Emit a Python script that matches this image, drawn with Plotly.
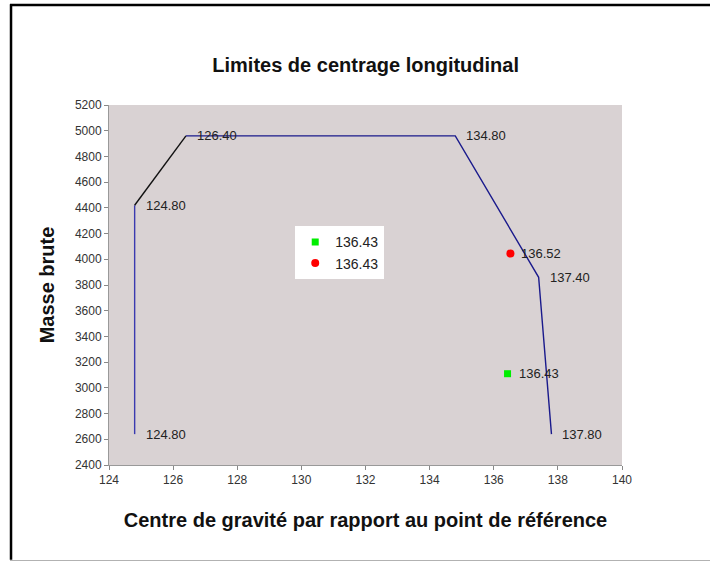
import plotly.graph_objects as go

# Envelope (centre of gravity limits)
env_x = [124.8, 124.8, 126.4, 134.8, 137.4, 137.8]
env_y = [2640, 4420, 4960, 4960, 3860, 2640]
env_labels = ["124.80", "124.80", "126.40", "134.80", "137.40", "137.80"]

# Points
green_x = [136.43]
green_y = [3110]
green_name = "136.43"
red_x = [136.52]
red_y = [4045]
red_name = "136.43"

x_ticks = [124, 126, 128, 130, 132, 134, 136, 138, 140]
y_ticks = list(range(2400, 5201, 200))

NAVY = "#1a1a8c"
FONT = "Liberation Sans, Arial, sans-serif"

fig = go.Figure()

fig.add_trace(go.Scatter(x=env_x[0:2], y=env_y[0:2], mode="lines",
                         line=dict(color="#3a3ab0", width=1.4), showlegend=False, hoverinfo="skip"))
fig.add_trace(go.Scatter(x=env_x[1:3], y=env_y[1:3], mode="lines",
                         line=dict(color="#111111", width=1.4), showlegend=False, hoverinfo="skip"))
fig.add_trace(go.Scatter(x=env_x[2:], y=env_y[2:], mode="lines",
                         line=dict(color=NAVY, width=1.4), showlegend=False, hoverinfo="skip"))

fig.add_trace(go.Scatter(x=green_x, y=green_y, mode="markers", name=green_name,
                         marker=dict(symbol="square", color="#00ee00", size=7)))
fig.add_trace(go.Scatter(x=red_x, y=red_y, mode="markers", name=red_name,
                         marker=dict(symbol="circle", color="#ff0000", size=8)))

annotations = []
for x, y, t in zip(env_x, env_y, env_labels):
    annotations.append(dict(x=x, y=y, text=t, showarrow=False, xanchor="left",
                            yanchor="middle", xshift=9, font=dict(size=13, color="#222", family=FONT)))
for x, y in zip(green_x + red_x, green_y + red_y):
    annotations.append(dict(x=x, y=y, text=f"{x:.2f}", showarrow=False, xanchor="left",
                            yanchor="middle", xshift=9, font=dict(size=13, color="#222", family=FONT)))

fig.update_layout(
    width=710, height=561,
    margin=dict(l=109, r=88, t=105, b=96),
    paper_bgcolor="white",
    plot_bgcolor="#d9d2d3",
    font=dict(family=FONT, color="#222"),
    title=dict(text="<b>Limites de centrage longitudinal</b>", x=0.515, xanchor="center",
               y=0.885, yanchor="middle", font=dict(size=20, color="#111", family=FONT)),
    xaxis=dict(range=[124, 140], tickvals=x_ticks, ticks="outside", ticklen=4, tickcolor="#888",
               showgrid=False, zeroline=False, showline=True, linecolor="#999", linewidth=1,
               tickfont=dict(size=12, color="#333"),
               title=dict(text="<b>Centre de gravité par rapport au point de référence</b>",
                          font=dict(size=20, color="#111"), standoff=26)),
    yaxis=dict(range=[2400, 5200], tickvals=y_ticks, ticks="outside", ticklen=4, tickcolor="#888",
               showgrid=False, zeroline=False, showline=True, linecolor="#999", linewidth=1,
               tickfont=dict(size=12, color="#333"),
               title=dict(text="<b>Masse brute</b>", font=dict(size=20, color="#111"), standoff=14)),
    legend=dict(x=0.363, y=0.663, xanchor="left", yanchor="top", bgcolor="white",
                borderwidth=0, font=dict(size=14, color="#222"), itemwidth=30,
                tracegroupgap=0),
    annotations=annotations,
    shapes=[
        dict(type="line", xref="paper", yref="paper", x0=-0.193, x1=1.2, y0=1.278, y1=1.278,
             line=dict(color="black", width=2.5)),
        dict(type="line", xref="paper", yref="paper", x0=-0.191, x1=-0.191, y0=1.28, y1=-0.263,
             line=dict(color="black", width=2.5)),
        dict(type="line", xref="paper", yref="paper", x0=-0.193, x1=1.2, y0=-0.267, y1=-0.267,
             line=dict(color="#999", width=1.5)),
    ],
)

fig.write_html("out.html", config={"displayModeBar": False},
               post_script="document.body.style.margin='0';document.body.style.overflow='hidden';")
